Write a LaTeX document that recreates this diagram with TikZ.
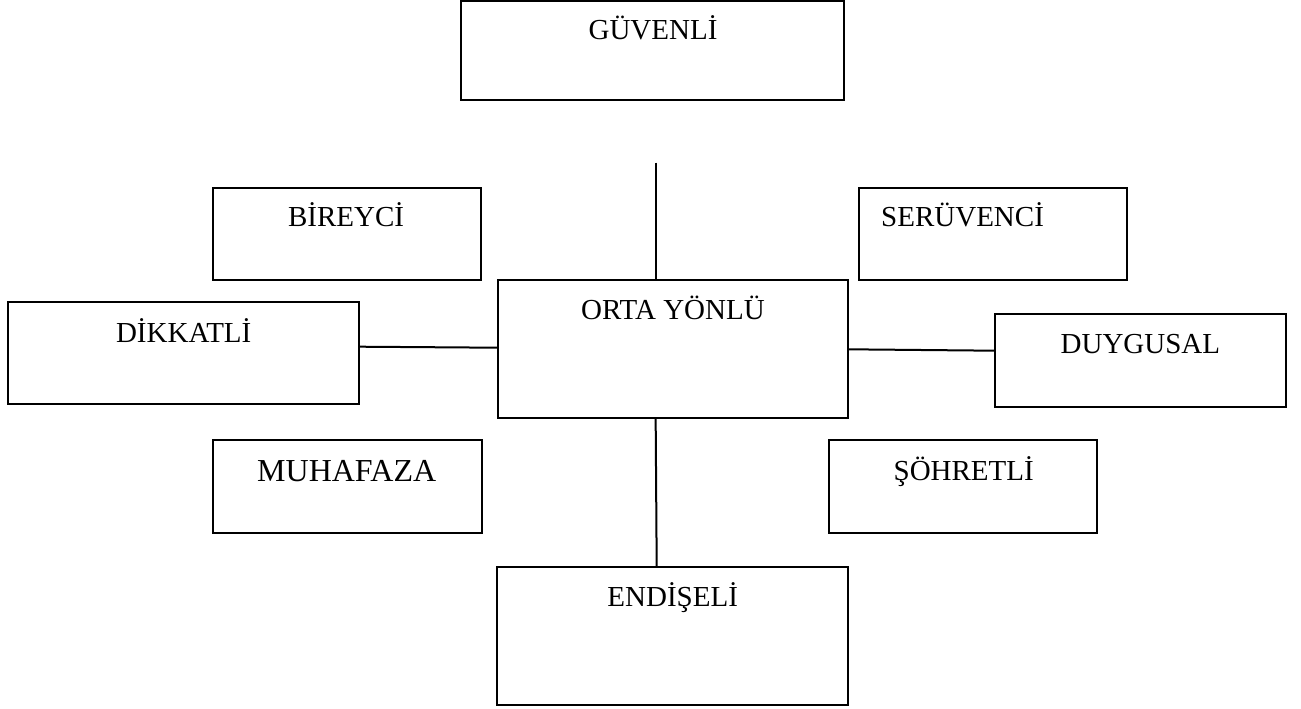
\documentclass[tikz,border=0pt]{standalone}
\usepackage{fontspec}
\setmainfont{Liberation Serif}
\begin{document}
\begin{tikzpicture}[x=1pt,y=-1pt,
  box/.style={draw=black, line width=2pt, rectangle, inner sep=0pt, outer sep=0pt},
  lbl/.style={anchor=base, inner sep=0pt, font=\fontsize{29}{34}\selectfont},
  biglbl/.style={anchor=base, inner sep=0pt, font=\fontsize{32}{38}\selectfont},
  conn/.style={draw=black, line width=2pt}]
\useasboundingbox (0,0) rectangle (1301,709);
% boxes
\node[box, minimum width=383pt, minimum height=99pt] (guv) at (652.5,50.5) {};
\node[box, minimum width=268.3pt, minimum height=91.7pt] (bir) at (347.15,233.85) {};
\node[box, minimum width=268.3pt, minimum height=91.4pt] (ser) at (993.15,234) {};
\node[box, minimum width=351pt, minimum height=102pt] (dik) at (183.8,353) {};
\node[box, minimum width=350.5pt, minimum height=137.7pt] (orta) at (672.75,348.85) {};
\node[box, minimum width=291pt, minimum height=92.7pt] (duy) at (1140.5,360.35) {};
\node[box, minimum width=269pt, minimum height=92.7pt] (muh) at (347.2,486.35) {};
\node[box, minimum width=268pt, minimum height=92.4pt] (soh) at (963.3,486.5) {};
\node[box, minimum width=350.4pt, minimum height=137.4pt] (end) at (672.5,636) {};
% labels
\node[lbl] (guvt) at (653,39.3) {GÜVENLİ};
\node[lbl] (birt) at (346,226.7) {BİREYCİ};
\node[lbl, anchor=base west] (sert) at (881,226) {SERÜVENCİ};
\node[lbl] (dikt) at (183.7,342.3) {DİKKATLİ};
\node[lbl] (ortat) at (673,319.3) {ORTA YÖNLÜ};
\node[lbl] (duyt) at (1140.4,353.3) {DUYGUSAL};
\node[biglbl] (muht) at (346.7,481.7) {MUHAFAZA};
\node[lbl] (soht) at (963.7,480) {ŞÖHRETLİ};
\node[lbl] (endt) at (672.7,606) {ENDİŞELİ};
% connectors
\coordinate (ctop) at (655.5,162.7);
\draw[conn] (ctop) -- (ctop |- orta.north);
\draw[conn] ([yshift=6.3pt]dik.east) -- ([yshift=1.15pt]orta.west);
\draw[conn] ([yshift=-0.45pt]orta.east) -- ([yshift=9.65pt]duy.west);
\draw[conn] ([xshift=-17.1pt]orta.south) -- ([xshift=-15.8pt]end.north);
\end{tikzpicture}
\end{document}
